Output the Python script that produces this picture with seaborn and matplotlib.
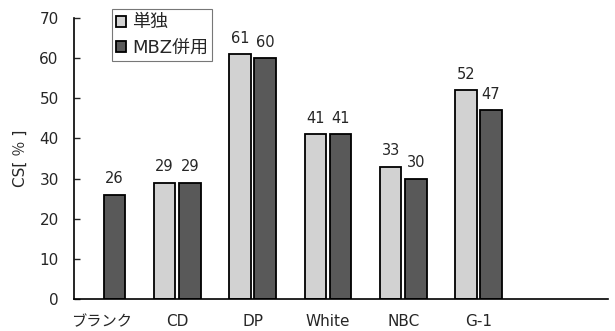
import matplotlib
matplotlib.use("Agg")
import matplotlib.pyplot as plt
import seaborn as sns
import pandas as pd
import numpy as np
from matplotlib.patches import Patch

categories = ["ブランク", "CD", "DP", "White", "NBC", "G-1"]
single = [np.nan, 29, 61, 41, 33, 52]
mbz = [26, 29, 60, 41, 30, 47]
series_names = ["単独", "MBZ併用"]

sns.set_theme(style="white")
plt.rcParams['font.family'] = ['DejaVu Sans', 'Noto Sans CJK JP']

df = pd.DataFrame({
    "cat": categories * 2,
    "val": single + mbz,
    "series": [series_names[0]] * len(categories) + [series_names[1]] * len(categories),
})

colors = {"単独": "#d2d2d2", "MBZ併用": "#595959"}

fig = plt.figure(figsize=(6.15, 3.31), dpi=100)
ax = fig.add_axes([0.1203, 0.0967, 0.8683, 0.8489])

sns.barplot(data=df, x="cat", y="val", hue="series", order=categories,
            hue_order=series_names, palette=colors, width=0.67, gap=0.15,
            edgecolor="black", linewidth=1.3, ax=ax, legend=False)

for cont in ax.containers:
    ax.bar_label(cont, fmt="%d", padding=6, fontsize=10.5)

ax.set_ylim(0, 70)
ax.set_yticks(range(0, 71, 10))
ax.set_xlim(-0.372, 6.72)
ax.set_xlabel("")
ax.set_ylabel("CS[ ％ ]", fontsize=11, labelpad=8)
ax.tick_params(axis="y", direction="in", length=4, width=1, pad=11, labelsize=11, left=True)
ax.tick_params(axis="x", length=0, pad=11, labelsize=11)
for s in ["top", "right"]:
    ax.spines[s].set_visible(False)
for s in ["left", "bottom"]:
    ax.spines[s].set_color("black")
    ax.spines[s].set_linewidth(1.2)

handles = [Patch(facecolor=colors[n], edgecolor="black", linewidth=1.3) for n in series_names]
leg = fig.legend(handles, series_names, loc="upper left", bbox_to_anchor=(0.182, 0.973),
                 bbox_transform=fig.transFigure, fontsize=13, frameon=True, fancybox=False,
                 handlelength=0.55, handleheight=0.55, handletextpad=0.3, borderpad=0.25,
                 labelspacing=0.4, borderaxespad=0)
leg.get_frame().set_edgecolor("#555555")
leg.get_frame().set_linewidth(0.8)

fig.savefig("out.png", dpi=100)
